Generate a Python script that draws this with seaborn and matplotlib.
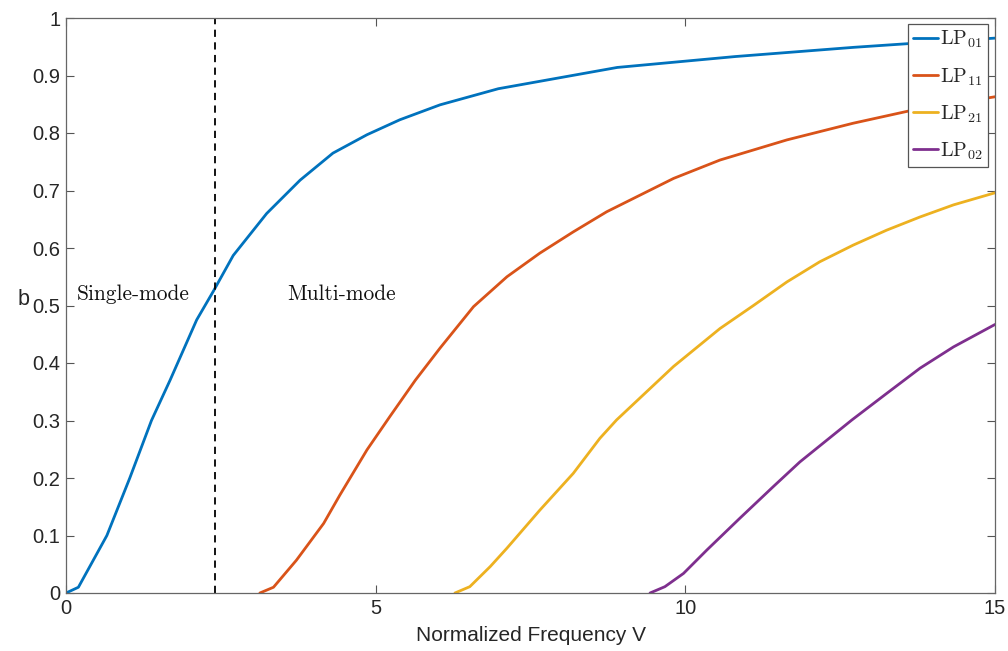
import matplotlib
matplotlib.use("Agg")
import matplotlib.pyplot as plt
import seaborn as sns
import pandas as pd
import numpy as np

# ---- data ----
v_lp01 = [0, 0.2, 0.66, 1.03, 1.38, 1.68, 2.11, 2.38, 2.70, 3.24, 3.78, 4.31, 4.86, 5.39,
          6.04, 6.98, 8.9, 10.81, 12.72, 13.68, 15]
b_lp01 = [0, 0.01, 0.1, 0.2, 0.3, 0.37, 0.475, 0.525, 0.587, 0.66, 0.718, 0.765, 0.797, 0.823,
          0.849, 0.877, 0.914, 0.933, 0.949, 0.956, 0.965]

v_lp11 = [3.13, 3.35, 3.72, 4.16, 4.42, 4.86, 5.23, 5.64, 6.04, 6.58, 7.12, 7.65, 8.19, 8.73,
          9.27, 9.81, 10.56, 11.64, 12.71, 13.68, 15]
b_lp11 = [0, 0.01, 0.057, 0.121, 0.17, 0.249, 0.307, 0.37, 0.426, 0.498, 0.55, 0.591, 0.628, 0.663,
          0.692, 0.721, 0.753, 0.788, 0.817, 0.84, 0.863]

v_lp21 = [6.28, 6.52, 6.85, 7.12, 7.65, 8.19, 8.62, 8.89, 9.81, 10.56, 11.1, 11.64, 12.17, 12.71,
          13.25, 13.79, 14.33, 15]
b_lp21 = [0, 0.011, 0.046, 0.078, 0.144, 0.208, 0.269, 0.301, 0.394, 0.46, 0.50, 0.541, 0.576, 0.605,
          0.631, 0.654, 0.675, 0.696]

v_lp02 = [9.43, 9.67, 9.97, 10.35, 10.88, 11.42, 11.85, 12.69, 13.25, 13.79, 14.33, 15]
b_lp02 = [0, 0.011, 0.034, 0.075, 0.13, 0.185, 0.228, 0.301, 0.347, 0.391, 0.428, 0.467]

mode_names = ["LP01", "LP11", "LP21", "LP02"]
mode_labels = [r"LP$_{01}$", r"LP$_{11}$", r"LP$_{21}$", r"LP$_{02}$"]
mode_colors = ["#0072BD", "#D95319", "#EDB120", "#7E2F8E"]
v_cutoff = 2.405
x_ticks = [0, 5, 10, 15]
y_ticks = [0, 0.1, 0.2, 0.3, 0.4, 0.5, 0.6, 0.7, 0.8, 0.9, 1]
y_tick_labels = ["0", "0.1", "0.2", "0.3", "0.4", "0.5", "0.6", "0.7", "0.8", "0.9", "1"]

frames = []
for name, vv, bb in zip(mode_names, [v_lp01, v_lp11, v_lp21, v_lp02],
                        [b_lp01, b_lp11, b_lp21, b_lp02]):
    frames.append(pd.DataFrame({"V": vv, "b": bb, "mode": name}))
df = pd.concat(frames, ignore_index=True)

sns.set_theme(style="white")
plt.rcParams["font.family"] = ["Liberation Sans", "DejaVu Sans"]
plt.rcParams["mathtext.fontset"] = "cm"

fig = plt.figure(figsize=(10.08, 6.51), dpi=100)
ax = fig.add_axes([66 / 1008, 1 - 593 / 651, (995 - 66) / 1008, (593 - 18) / 651])

sns.lineplot(data=df, x="V", y="b", hue="mode", hue_order=mode_names,
             palette=dict(zip(mode_names, mode_colors)), estimator=None, sort=False,
             linewidth=2.0, ax=ax, legend=False)
for ln in ax.get_lines():
    ln.set_solid_joinstyle("round")

ax.axvline(v_cutoff, color="black", linestyle=(0, (4, 3)), linewidth=1.3)

serif = "cmr10"
ax.text(0.17, 0.52, "Single-mode", fontsize=15.4, family=serif, va="center", ha="left",
        color="#111111")
ax.text(3.57, 0.52, "Multi-mode", fontsize=15.4, family=serif, va="center", ha="left",
        color="#111111")

ax.set_xlim(0, 15)
ax.set_ylim(0, 1)
ax.set_xticks(x_ticks)
ax.set_xticklabels([str(t) for t in x_ticks])
ax.set_yticks(y_ticks)
ax.set_yticklabels(y_tick_labels)
ax.tick_params(axis="both", which="both", direction="in", length=6, width=0.8,
               colors="#555555", labelcolor="#262626", labelsize=14.5,
               top=True, right=True, bottom=True, left=True, pad=4)
for sp in ax.spines.values():
    sp.set_visible(True)
    sp.set_color("#666666")
    sp.set_linewidth(0.9)

ax.set_xlabel("Normalized Frequency V", fontsize=15, color="#262626", labelpad=6)
ax.set_ylabel("b", fontsize=15.5, color="#262626", rotation=0, va="center", ha="center")
ax.yaxis.set_label_coords(-0.046, 0.51)

handles = [plt.Line2D([], [], color=c, linewidth=2.0) for c in mode_colors]
leg = ax.legend(handles, mode_labels, loc="upper right",
                bbox_to_anchor=((988 - 66) / (995 - 66), (593 - 24) / 575),
                borderaxespad=0, frameon=True, fancybox=False,
                handlelength=1.25, handletextpad=0.12, labelspacing=0.78,
                borderpad=0.25, prop={"family": serif, "size": 14.5})
leg.get_frame().set_edgecolor("#555555")
leg.get_frame().set_linewidth(0.9)
leg.get_frame().set_facecolor("white")
leg.get_frame().set_alpha(1)

fig.savefig("out.png", dpi=100)
